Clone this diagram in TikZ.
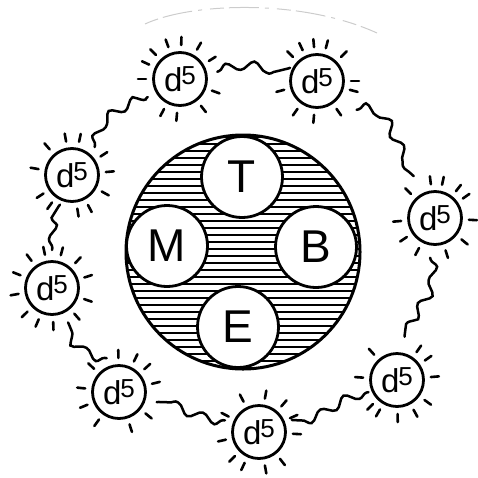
\documentclass[tikz,border=0pt]{standalone}
\usepackage{fontspec}
\newfontfamily\hand{Liberation Sans}
\usetikzlibrary{calc,decorations.pathmorphing}
\newcommand\sunrays[2]{\foreach \a in {#2} \draw[ray] ($(#1)+(\a:34)$) -- ($(#1)+(\a:42)$);}
\newcommand\dfive{d\kern-1pt\raisebox{7pt}{\fontsize{26}{26}\selectfont 5}}
\begin{document}
\begin{tikzpicture}[x=1pt,y=-1pt,
  sun/.style={circle, draw, line width=2.8pt, minimum size=53pt, inner sep=0pt, font=\hand\fontsize{33}{33}\selectfont},
  planet/.style={circle, draw, fill=white, line width=2.8pt, minimum size=81pt, inner sep=0pt, font=\hand\fontsize{46}{46}\selectfont},
  ray/.style={line width=2.6pt, line cap=round},
  wavy/.style={line width=2.5pt, line cap=round, decorate, decoration={snake, amplitude=4.5pt, segment length=27pt, pre length=2pt, post length=2pt}},
  hatch/.style={line width=2pt},
  faint/.style={gray!40, line width=1pt, dash pattern=on 14pt off 5pt on 30pt off 6pt on 4pt off 8pt}]
\useasboundingbox (0,0) rectangle (478,477);

% faint arc at top
\draw[faint] (145,24) .. controls (190,3) and (300,-2) .. (377,33);

% core with hatching
\begin{scope}
  \clip (243,252) circle (117pt);
  \foreach \y in {137,144,...,368} \draw[hatch] (120,\y) -- (366,\y);
\end{scope}
\node[circle, draw, line width=3pt, minimum size=234pt, inner sep=0pt] (core) at (243,252) {};

\node[planet] (T) at (242,177) {T};
\node[planet] (M) at (167,246) {M};
\node[planet] (B) at (316,247) {B};
\node[planet] (E) at (238,327) {E};

% suns
\node[sun] (s1) at (180,79) {\dfive};
\node[sun] (s2) at (317,81) {\dfive};
\node[sun] (s3) at (435,218) {\dfive};
\node[sun] (s4) at (72,175) {\dfive};
\node[sun] (s5) at (52,288) {\dfive};
\node[sun] (s6) at (119,392) {\dfive};
\node[sun] (s7) at (259,432) {\dfive};
\node[sun] (s8) at (397,380) {\dfive};

\sunrays{s1}{180,205,225,250,272,300,328,20,52,95,118}
\sunrays{s2}{225,245,265,285,315,0,15,55,95,125,165}
\sunrays{s3}{225,263,282,308,325,3,39,72,118,146,175}
\sunrays{s4}{260,282,327,355,29,62,81,126,147,190,229}
\sunrays{s5}{233,258,285,313,342,19,49,88,113,136,170,202}
\sunrays{s6}{223,269,296,318,346,39,72,126,158,186}
\sunrays{s7}{243,280,311,336,3,52,80,115,135,167,207}
\sunrays{s8}{184,228,305,325,355,36,61,89,120,135}

% wavy connectors
\draw[wavy] ($(s1)+(-11:38)$) .. controls (245,60) and (262,78) .. ($(s2)+(206:30)$);
\draw[wavy] ($(s2)+(36:49)$) .. controls (385,102) and (385,150) .. ($(s3)+(243:47)$);
\draw[wavy] ($(s3)+(97:40)$) .. controls (440,290) and (405,305) .. ($(s8)+(280:44)$);
\draw[wavy] ($(s8)+(157:31)$) .. controls (340,398) and (330,422) .. ($(s7)+(340:35)$);
\draw[wavy] ($(s7)+(199:36)$) .. controls (200,420) and (180,400) .. ($(s6)+(15:39)$);
\draw[wavy] ($(s6)+(250:36)$) .. controls (85,356) and (75,338) .. ($(s5)+(65:38)$);
\draw[wavy] ($(s5)+(270:38)$) .. controls (55,235) and (45,222) .. ($(s4)+(112:32)$);
\draw[wavy] ($(s4)+(309:36)$) .. controls (100,115) and (130,115) .. ($(s1)+(151:37)$);
\end{tikzpicture}
\end{document}
